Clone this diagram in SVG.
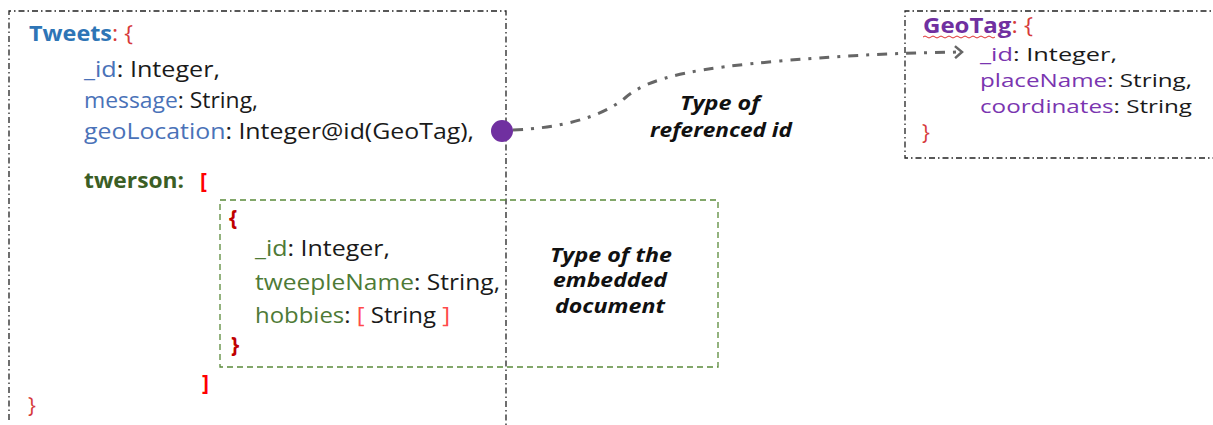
<svg xmlns="http://www.w3.org/2000/svg" width="1213" height="425" viewBox="0 0 1213 425">
<defs>
<style>
text{font-family:"Open Sans","Noto Sans","Liberation Sans",sans-serif;font-size:21px;fill:#1a1a1a}
.sm{font-size:19px}
.blue{fill:#4a72b8}
.tw{fill:#2e75b6;font-weight:bold}
.red{fill:#d63a3a}
.rb{fill:#ff0000;font-weight:bold}
.dr{fill:#c00000;font-weight:bold}
.lr{fill:#ff4a4a}
.g{fill:#4e7a36}
.gb{fill:#3b5e25;font-weight:bold}
.p{fill:#7a35b0}
.pb{fill:#7030a0;font-weight:bold}
.lbl{font-weight:bold;font-style:italic;fill:#111;font-size:19px}
.box{fill:none;stroke:#222;stroke-width:1.3;stroke-dasharray:6 3 1.5 3}
.emb{fill:none;stroke:#5a8a3a;stroke-width:1.3;stroke-dasharray:6 4}
.conn{fill:none;stroke:#666;stroke-width:3;stroke-dasharray:10 8 3 8}
</style>
<marker id="arr" markerWidth="14" markerHeight="14" refX="10" refY="7" orient="auto" markerUnits="userSpaceOnUse">
<path d="M3,1 L10,7 L3,13" fill="none" stroke="#666" stroke-width="2.5"/>
</marker>
</defs>
<g id="tweets">
<path class="box" d="M9,420 V11 H506 V425"/>
<text x="29" y="41" textLength="104" lengthAdjust="spacingAndGlyphs"><tspan class="tw">Tweets</tspan><tspan class="red">: {</tspan></text>
<text x="84" y="77" textLength="136" lengthAdjust="spacingAndGlyphs"><tspan class="blue">_id</tspan>: Integer,</text>
<text x="84" y="108" textLength="174" lengthAdjust="spacingAndGlyphs"><tspan class="blue">message</tspan>: String,</text>
<text x="84" y="139" textLength="390" lengthAdjust="spacingAndGlyphs"><tspan class="blue">geoLocation</tspan>: Integer@id(GeoTag),</text>
<text x="84" y="188" textLength="100" lengthAdjust="spacingAndGlyphs"><tspan class="gb">twerson</tspan><tspan class="gb" fill="#222">:</tspan></text>
<text x="200" y="188" class="rb">[</text>
<text x="202" y="390" class="rb">]</text>
<text x="28" y="413" class="red">}</text>
</g>
<g id="embedded">
<rect class="emb" x="220" y="200" width="498" height="167"/>
<text x="229" y="225" class="dr">{</text>
<text x="255" y="256" textLength="135" lengthAdjust="spacingAndGlyphs"><tspan class="g">_id</tspan>: Integer,</text>
<text x="255" y="290" textLength="245" lengthAdjust="spacingAndGlyphs"><tspan class="g">tweepleName</tspan>: String,</text>
<text x="255" y="323" textLength="195" lengthAdjust="spacingAndGlyphs"><tspan class="g">hobbies</tspan>: <tspan class="lr">[</tspan> String <tspan class="lr">]</tspan></text>
<text x="231" y="352" class="dr">}</text>
<text class="lbl" x="550" y="262" textLength="122" lengthAdjust="spacingAndGlyphs">Type of the</text>
<text class="lbl" x="553" y="287" textLength="114" lengthAdjust="spacingAndGlyphs">embedded</text>
<text class="lbl" x="555" y="313" textLength="110" lengthAdjust="spacingAndGlyphs">document</text>
</g>
<g id="geotag">
<path class="box" d="M1220,11 H905 V158 H1220"/>
<text x="923" y="33" textLength="110" lengthAdjust="spacingAndGlyphs"><tspan class="pb">GeoTag</tspan><tspan class="red">: {</tspan></text>
<path d="M923,37 q2,-2 4,0 t4,0 t4,0 t4,0 t4,0 t4,0 t4,0 t4,0 t4,0 t4,0 t4,0 t4,0 t4,0 t4,0 t4,0 t4,0 t4,0 t4,0" fill="none" stroke="#e03030" stroke-width="1"/>
<text class="sm" x="980" y="61" textLength="137" lengthAdjust="spacingAndGlyphs"><tspan class="p">_id</tspan>: Integer,</text>
<text class="sm" x="980" y="87" textLength="212" lengthAdjust="spacingAndGlyphs"><tspan class="p">placeName</tspan>: String,</text>
<text class="sm" x="980" y="113" textLength="212" lengthAdjust="spacingAndGlyphs"><tspan class="p">coordinates</tspan>: String</text>
<text x="922" y="140" class="red">}</text>
</g>
<g id="connectors">
<path class="conn" d="M513,130 C560,128 600,118 625,98 C650,76 700,68 780,61 C850,55 900,53 962,52" marker-end="url(#arr)"/>
<circle cx="502" cy="131" r="11" fill="#7030a0"/>
<text class="lbl" x="680" y="110" textLength="80" lengthAdjust="spacingAndGlyphs">Type of</text>
<text class="lbl" x="650" y="137" textLength="142" lengthAdjust="spacingAndGlyphs">referenced id</text>
</g>
</svg>
